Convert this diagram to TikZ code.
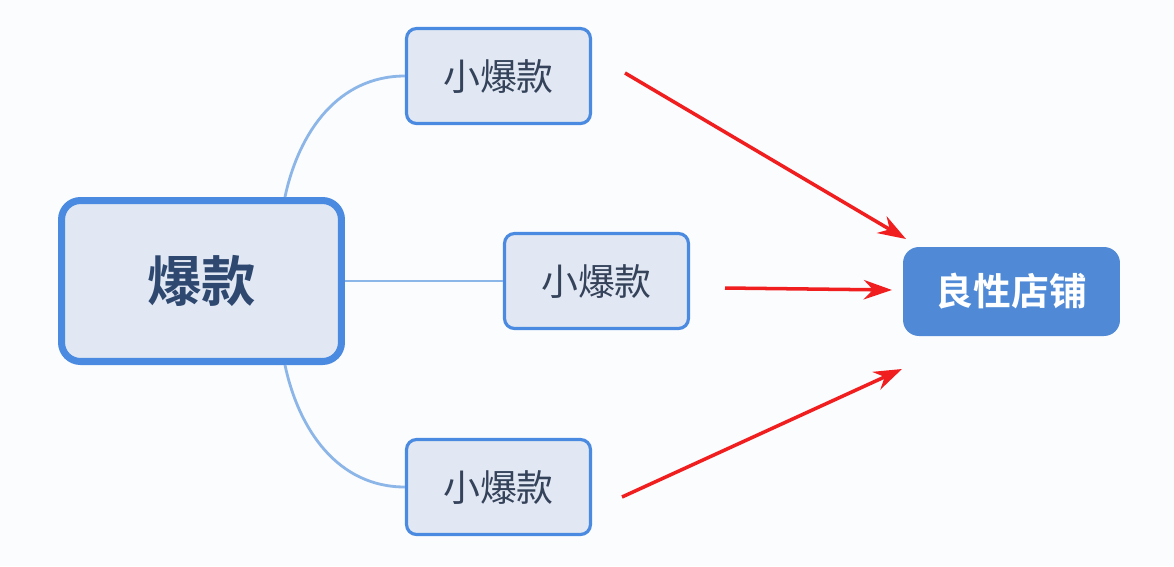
\documentclass[tikz,border=0pt]{standalone}
\usepackage{fontspec}
\usepackage{tikz}
\usetikzlibrary{arrows.meta, positioning}
\newfontfamily\cjk{Noto Sans CJK SC}
\newfontfamily\cjkbold{Noto Sans CJK SC Bold}

\definecolor{boxline}{RGB}{74,138,224}
\definecolor{boxfill}{RGB}{226,232,243}
\definecolor{linkblue}{RGB}{141,182,232}
\definecolor{shopblue}{RGB}{80,138,214}
\definecolor{textblue}{RGB}{46,72,112}
\definecolor{textgray}{RGB}{52,66,90}
\definecolor{arrowred}{RGB}{240,30,30}
\definecolor{bgcol}{RGB}{251,252,254}

\tikzset{
  mainbox/.style={draw=boxline, fill=boxfill, line width=4pt, rounded corners=0.38cm,
    minimum width=5.6cm, minimum height=3.22cm, text=textblue, font=\cjkbold\fontsize{31}{33}\selectfont},
  subbox/.style={draw=boxline, fill=boxfill, line width=1.8pt, rounded corners=0.2cm,
    minimum width=3.68cm, minimum height=1.9cm, text=textgray, font=\cjk\fontsize{21}{23}\selectfont},
  shopbox/.style={fill=shopblue, rounded corners=0.32cm,
    minimum width=4.34cm, minimum height=1.78cm, text=white, font=\cjkbold\fontsize{21.5}{23}\selectfont},
  link/.style={draw=linkblue, line width=1.6pt},
  redarrow/.style={draw=arrowred, line width=2pt, -{Stealth[length=16pt, width=11pt]}}
}

\begin{document}
\begin{tikzpicture}[x=0.02cm, y=-0.02cm]
      \fill[bgcol] (0,0) rectangle (1174,566);
      \useasboundingbox (0,0) rectangle (1174,566);

      \node[mainbox] (big) at (201.5,281) {爆款};

      \node[subbox] (s1) at (498.5,76) {小爆款};
      \node[subbox] (s2) at (596.5,281) {小爆款};
      \node[subbox] (s3) at (498.5,487) {小爆款};

      \node[shopbox] (shop) at (1011.5,291.5) {良性店铺};

      \draw[link] ([xshift=1.67cm]big.north) to[out=78,in=180] (s1.west);
      \draw[link] (big.east) -- (s2.west);
      \draw[link] ([xshift=1.67cm]big.south) to[out=-78,in=180] (s3.west);

      \coordinate (r1a) at (625,73);
      \coordinate (r1b) at (906,239);
      \coordinate (r2a) at (725,288);
      \coordinate (r2b) at (892,290);
      \coordinate (r3a) at (622,497);
      \coordinate (r3b) at (902,369);

      \draw[redarrow] (r1a) -- (r1b);
      \draw[redarrow] (r2a) -- (r2b);
      \draw[redarrow] (r3a) -- (r3b);

\end{tikzpicture}
\end{document}
